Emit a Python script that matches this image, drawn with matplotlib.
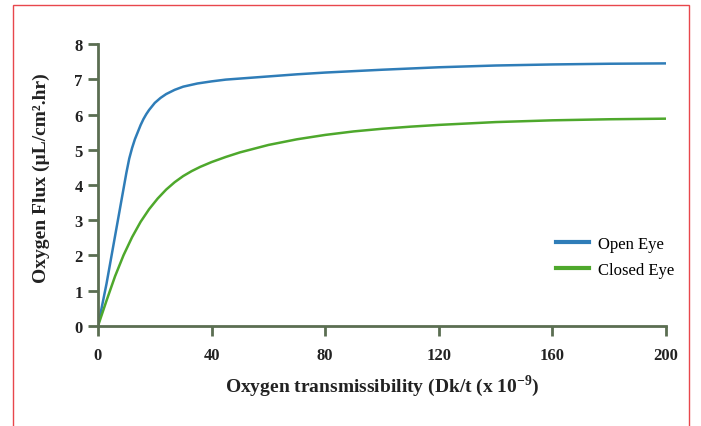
import matplotlib
matplotlib.use('Agg')
import matplotlib.pyplot as plt
from matplotlib.patches import Rectangle

# data
open_x = [0, 3, 6, 9, 10, 11, 12, 13, 14, 15, 16, 17, 18, 20, 22, 24, 27, 30, 35, 40, 45, 50,
          60, 70, 80, 100, 120, 140, 160, 180, 200]
open_y = [0, 1.2, 2.55, 3.9, 4.35, 4.75, 5.05, 5.3, 5.5, 5.7, 5.87, 6.01, 6.13, 6.33, 6.47, 6.58,
          6.7, 6.79, 6.88, 6.94, 6.99, 7.02, 7.08, 7.14, 7.19, 7.27, 7.34, 7.39, 7.42, 7.44, 7.45]
closed_x = [0, 3, 6, 9, 12, 15, 18, 21, 24, 27, 30, 33, 36, 40, 45, 50, 60, 70, 80, 90, 100,
            110, 120, 140, 160, 180, 200]
closed_y = [0, 0.72, 1.41, 2.01, 2.52, 2.955, 3.315, 3.615, 3.87, 4.08, 4.254, 4.395, 4.515,
            4.651, 4.796, 4.926, 5.136, 5.296, 5.421, 5.52, 5.595, 5.655, 5.705, 5.785, 5.835,
            5.865, 5.882]
x_ticks = [0, 40, 80, 120, 160, 200]
y_ticks = [0, 1, 2, 3, 4, 5, 6, 7, 8]

plt.rcParams['font.family'] = ['Liberation Serif', 'DejaVu Serif']
plt.rcParams['mathtext.fontset'] = 'custom'
plt.rcParams['mathtext.rm'] = 'Liberation Serif'
plt.rcParams['mathtext.bf'] = 'Liberation Serif:bold'
axis_col = '#5b6e52'
text_col = '#222222'

fig = plt.figure(figsize=(7.01, 4.27), dpi=100)
ax = fig.add_axes([0.1398, 0.2342, 0.8104, 0.6604])

# red frame round the figure
fig.patches.append(Rectangle((13.5 / 701, -0.05), 675 / 701, 1 - 5.5 / 427 + 0.05,
                             transform=fig.transFigure, fill=False,
                             edgecolor='#e8474c', linewidth=1.0))

ax.plot(open_x, open_y, color='#2f7db8', lw=1.8, label='Open Eye')
ax.plot(closed_x, closed_y, color='#4ea82c', lw=1.8, label='Closed Eye')

ax.set_xlim(0, 200)
ax.set_ylim(0, 8)
ax.set_xticks(x_ticks)
ax.set_yticks(y_ticks)

for s in ['top', 'right']:
    ax.spines[s].set_visible(False)
for s in ['left', 'bottom']:
    ax.spines[s].set_color(axis_col)
    ax.spines[s].set_linewidth(2)
ax.tick_params(direction='out', length=7, width=2, color=axis_col, pad=8)
ax.tick_params(axis='y', pad=4)
for lbl in ax.get_xticklabels() + ax.get_yticklabels():
    lbl.set_fontweight('bold')
    lbl.set_fontsize(12)
    lbl.set_color(text_col)

ax.set_xlabel(r'Oxygen transmissibility (Dk/t (x 10$^{\mathbf{-9}}$)', fontsize=14,
              fontweight='bold', color=text_col, labelpad=7)
ax.set_ylabel('Oxygen Flux (\u00b5L/cm\u00b2.hr)', fontsize=14,
              fontweight='bold', color=text_col)
ax.yaxis.set_label_coords(-0.084, 0.528)

leg = ax.legend(loc='upper left', bbox_to_anchor=(0.793, 0.445),
                bbox_transform=fig.transFigure, frameon=False, borderpad=0,
                borderaxespad=0, fontsize=12, handlelength=2.0,
                handletextpad=0.5, labelspacing=0.6)
for h in leg.get_lines():
    h.set_linewidth(3)

fig.savefig('out.png', dpi=100)
